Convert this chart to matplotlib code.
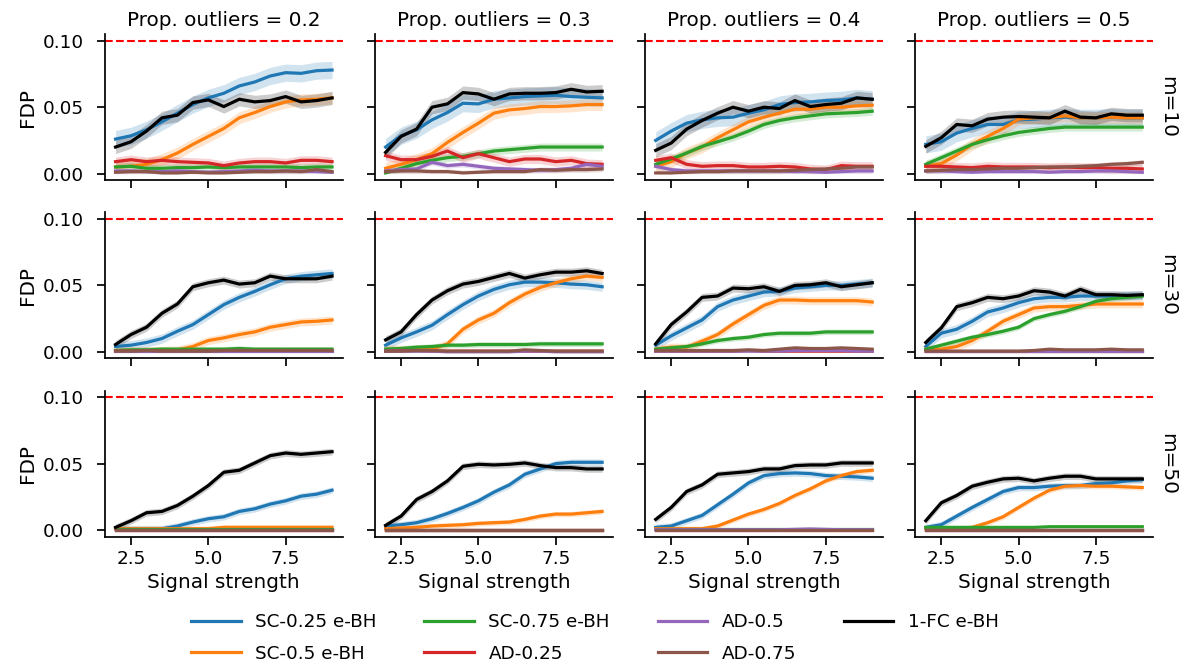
import numpy as np
import matplotlib
matplotlib.use("Agg")
import matplotlib.pyplot as plt

# signal strength grid
signal = [2.0, 2.5, 3.0, 3.5, 4.0, 4.5, 5.0, 5.5, 6.0, 6.5, 7.0, 7.5, 8.0, 8.5, 9.0]

methods = ["SC-0.25 e-BH", "SC-0.5 e-BH", "SC-0.75 e-BH",
           "AD-0.25", "AD-0.5", "AD-0.75", "1-FC e-BH"]
colors = ["#1f77b4", "#ff7f0e", "#2ca02c", "#d62728", "#9467bd", "#8c564b", "black"]

m_values = [10, 30, 50]
prop_outliers = [0.2, 0.3, 0.4, 0.5]
alpha_level = 0.1

# mean FDP per panel (row m, col prop), one list per method
fdp_m10_p02 = {
    "SC-0.25 e-BH": [0.026, 0.0285, 0.033, 0.039, 0.0455, 0.052, 0.057, 0.0605, 0.066, 0.069, 0.0735, 0.076, 0.0755, 0.0775, 0.078],
    "SC-0.5 e-BH": [0.005, 0.0055, 0.007, 0.0105, 0.0155, 0.022, 0.028, 0.034, 0.042, 0.046, 0.0505, 0.054, 0.0555, 0.056, 0.057],
    "SC-0.75 e-BH": [0.005, 0.0055, 0.004, 0.004, 0.0045, 0.0045, 0.005, 0.0045, 0.005, 0.005, 0.005, 0.005, 0.0045, 0.005, 0.005],
    "AD-0.25": [0.009, 0.0105, 0.009, 0.010, 0.009, 0.0085, 0.008, 0.006, 0.008, 0.009, 0.009, 0.008, 0.010, 0.010, 0.009],
    "AD-0.5": [0.002, 0.002, 0.0015, 0.0015, 0.002, 0.0015, 0.001, 0.0015, 0.002, 0.0025, 0.002, 0.002, 0.002, 0.0015, 0.001],
    "AD-0.75": [0.001, 0.0015, 0.0015, 0.0005, 0.0005, 0.001, 0.0005, 0.0005, 0.001, 0.0015, 0.0015, 0.002, 0.0015, 0.003, 0.0015],
    "1-FC e-BH": [0.02, 0.024, 0.032, 0.042, 0.044, 0.0535, 0.0555, 0.0505, 0.056, 0.054, 0.055, 0.058, 0.054, 0.055, 0.057],
}
fdp_m10_p03 = {
    "SC-0.25 e-BH": [0.02, 0.0285, 0.033, 0.0405, 0.046, 0.053, 0.0525, 0.056, 0.057, 0.058, 0.0585, 0.059, 0.058, 0.0575, 0.057],
    "SC-0.5 e-BH": [0.004, 0.007, 0.0105, 0.015, 0.0235, 0.031, 0.038, 0.0455, 0.048, 0.049, 0.0505, 0.0505, 0.051, 0.052, 0.052],
    "SC-0.75 e-BH": [0.0005, 0.004, 0.0075, 0.01, 0.012, 0.013, 0.015, 0.017, 0.018, 0.019, 0.02, 0.02, 0.02, 0.02, 0.02],
    "AD-0.25": [0.0135, 0.0105, 0.0105, 0.013, 0.017, 0.012, 0.015, 0.012, 0.009, 0.011, 0.011, 0.009, 0.01, 0.0075, 0.007],
    "AD-0.5": [0.002, 0.003, 0.0035, 0.0085, 0.006, 0.007, 0.0055, 0.004, 0.0035, 0.003, 0.0025, 0.003, 0.004, 0.007, 0.0055],
    "AD-0.75": [0.0015, 0.002, 0.002, 0.0015, 0.0015, 0.0005, 0.001, 0.0015, 0.0015, 0.0015, 0.003, 0.0025, 0.003, 0.003, 0.0035],
    "1-FC e-BH": [0.016, 0.028, 0.0335, 0.05, 0.0525, 0.061, 0.06, 0.056, 0.06, 0.0605, 0.0605, 0.061, 0.0635, 0.0615, 0.062],
}
fdp_m10_p04 = {
    "SC-0.25 e-BH": [0.025, 0.032, 0.038, 0.0405, 0.042, 0.0425, 0.0455, 0.048, 0.052, 0.0535, 0.054, 0.055, 0.0555, 0.057, 0.056],
    "SC-0.5 e-BH": [0.0055, 0.009, 0.0155, 0.02, 0.027, 0.033, 0.039, 0.0425, 0.0455, 0.0485, 0.0485, 0.05, 0.05, 0.051, 0.0515],
    "SC-0.75 e-BH": [0.007, 0.011, 0.0155, 0.0205, 0.024, 0.0275, 0.032, 0.037, 0.04, 0.042, 0.0435, 0.045, 0.0455, 0.046, 0.047],
    "AD-0.25": [0.01, 0.012, 0.007, 0.0055, 0.006, 0.006, 0.005, 0.005, 0.0055, 0.005, 0.0035, 0.003, 0.006, 0.0055, 0.0055],
    "AD-0.5": [0.0055, 0.003, 0.002, 0.002, 0.002, 0.002, 0.002, 0.002, 0.002, 0.0015, 0.0015, 0.001, 0.0015, 0.002, 0.002],
    "AD-0.75": [0.0005, 0.0005, 0.001, 0.0015, 0.0015, 0.002, 0.002, 0.002, 0.002, 0.0025, 0.003, 0.0035, 0.004, 0.005, 0.005],
    "1-FC e-BH": [0.0175, 0.023, 0.0335, 0.04, 0.0455, 0.05, 0.047, 0.05, 0.049, 0.055, 0.0505, 0.052, 0.053, 0.057, 0.056],
}
fdp_m10_p05 = {
    "SC-0.25 e-BH": [0.022, 0.024, 0.0305, 0.034, 0.037, 0.037, 0.0405, 0.041, 0.042, 0.0425, 0.042, 0.042, 0.0425, 0.042, 0.042],
    "SC-0.5 e-BH": [0.0055, 0.0075, 0.014, 0.022, 0.028, 0.034, 0.041, 0.042, 0.042, 0.0435, 0.042, 0.042, 0.0425, 0.042, 0.042],
    "SC-0.75 e-BH": [0.007, 0.012, 0.017, 0.022, 0.0255, 0.0285, 0.031, 0.0325, 0.034, 0.035, 0.035, 0.035, 0.035, 0.035, 0.035],
    "AD-0.25": [0.0055, 0.0055, 0.005, 0.0045, 0.0055, 0.005, 0.005, 0.005, 0.0045, 0.005, 0.0045, 0.0045, 0.004, 0.004, 0.0035],
    "AD-0.5": [0.002, 0.002, 0.0015, 0.001, 0.0015, 0.0015, 0.0015, 0.0015, 0.001, 0.0015, 0.0015, 0.002, 0.002, 0.0015, 0.001],
    "AD-0.75": [0.002, 0.0025, 0.003, 0.003, 0.0035, 0.004, 0.004, 0.0045, 0.005, 0.005, 0.0055, 0.006, 0.007, 0.0075, 0.0085],
    "1-FC e-BH": [0.0205, 0.027, 0.037, 0.036, 0.041, 0.0425, 0.043, 0.0425, 0.042, 0.047, 0.0425, 0.042, 0.045, 0.044, 0.044],
}
fdp_m30_p02 = {
    "SC-0.25 e-BH": [0.004, 0.005, 0.007, 0.01, 0.0155, 0.0205, 0.028, 0.0355, 0.041, 0.0455, 0.0505, 0.055, 0.057, 0.058, 0.059],
    "SC-0.5 e-BH": [0.001, 0.001, 0.001, 0.001, 0.0015, 0.004, 0.0085, 0.0105, 0.013, 0.015, 0.0185, 0.0205, 0.0225, 0.023, 0.024],
    "SC-0.75 e-BH": [0.001, 0.0015, 0.0015, 0.002, 0.002, 0.002, 0.002, 0.002, 0.0025, 0.002, 0.002, 0.002, 0.002, 0.002, 0.002],
    "AD-0.25": [0.0005, 0.0005, 0.0005, 0.0005, 0.0005, 0.0005, 0.0005, 0.0005, 0.001, 0.0005, 0.0005, 0.001, 0.0005, 0.0005, 0.0005],
    "AD-0.5": [0.0005, 0.0005, 0.0005, 0.0005, 0.0005, 0.0005, 0.0005, 0.0005, 0.0005, 0.0005, 0.0005, 0.0005, 0.0005, 0.0005, 0.0005],
    "AD-0.75": [0.0005, 0.0005, 0.001, 0.0005, 0.0005, 0.0005, 0.0005, 0.001, 0.001, 0.001, 0.001, 0.001, 0.001, 0.001, 0.001],
    "1-FC e-BH": [0.0055, 0.013, 0.0185, 0.029, 0.036, 0.049, 0.052, 0.054, 0.051, 0.052, 0.057, 0.055, 0.055, 0.055, 0.057],
}
fdp_m30_p03 = {
    "SC-0.25 e-BH": [0.005, 0.0105, 0.015, 0.02, 0.028, 0.0355, 0.042, 0.047, 0.0505, 0.0525, 0.0525, 0.052, 0.051, 0.0505, 0.049],
    "SC-0.5 e-BH": [0.002, 0.002, 0.002, 0.002, 0.006, 0.017, 0.024, 0.029, 0.037, 0.0435, 0.0485, 0.052, 0.055, 0.057, 0.056],
    "SC-0.75 e-BH": [0.002, 0.0025, 0.0035, 0.004, 0.005, 0.005, 0.0055, 0.0055, 0.0055, 0.0055, 0.006, 0.006, 0.006, 0.006, 0.006],
    "AD-0.25": [0.0005, 0.001, 0.001, 0.0005, 0.0005, 0.0005, 0.0005, 0.0005, 0.0005, 0.0005, 0.0005, 0.0005, 0.0005, 0.0005, 0.0005],
    "AD-0.5": [0.0005, 0.0005, 0.0005, 0.0005, 0.0, 0.0, 0.0, 0.0, 0.0, 0.0005, 0.0005, 0.0, 0.0, 0.0, 0.0],
    "AD-0.75": [0.0005, 0.0005, 0.001, 0.001, 0.0005, 0.0005, 0.0005, 0.0005, 0.0005, 0.0015, 0.001, 0.0005, 0.0005, 0.0005, 0.0005],
    "1-FC e-BH": [0.009, 0.015, 0.028, 0.039, 0.046, 0.051, 0.053, 0.056, 0.059, 0.0555, 0.058, 0.06, 0.06, 0.061, 0.059],
}
fdp_m30_p04 = {
    "SC-0.25 e-BH": [0.005, 0.012, 0.018, 0.024, 0.034, 0.039, 0.042, 0.045, 0.0455, 0.048, 0.049, 0.05, 0.05, 0.051, 0.052],
    "SC-0.5 e-BH": [0.002, 0.0035, 0.0035, 0.008, 0.013, 0.021, 0.028, 0.035, 0.039, 0.039, 0.0385, 0.0385, 0.0385, 0.0385, 0.0375],
    "SC-0.75 e-BH": [0.002, 0.003, 0.004, 0.006, 0.0085, 0.01, 0.011, 0.013, 0.014, 0.014, 0.014, 0.015, 0.015, 0.015, 0.015],
    "AD-0.25": [0.0005, 0.0005, 0.0005, 0.0005, 0.0005, 0.0005, 0.001, 0.0005, 0.0005, 0.0005, 0.0005, 0.0005, 0.0005, 0.0005, 0.0005],
    "AD-0.5": [0.0005, 0.0005, 0.0005, 0.0005, 0.0005, 0.0005, 0.0005, 0.0005, 0.0005, 0.001, 0.001, 0.001, 0.001, 0.0005, 0.0005],
    "AD-0.75": [0.001, 0.001, 0.001, 0.001, 0.001, 0.001, 0.0015, 0.001, 0.002, 0.003, 0.0025, 0.0025, 0.003, 0.0025, 0.002],
    "1-FC e-BH": [0.006, 0.0205, 0.03, 0.041, 0.042, 0.048, 0.0475, 0.049, 0.0455, 0.05, 0.0505, 0.052, 0.049, 0.0505, 0.052],
}
fdp_m30_p05 = {
    "SC-0.25 e-BH": [0.004, 0.014, 0.017, 0.023, 0.03, 0.033, 0.037, 0.04, 0.041, 0.041, 0.042, 0.042, 0.042, 0.0425, 0.0425],
    "SC-0.5 e-BH": [0.002, 0.002, 0.004, 0.0085, 0.0155, 0.023, 0.028, 0.033, 0.034, 0.034, 0.035, 0.036, 0.036, 0.036, 0.036],
    "SC-0.75 e-BH": [0.002, 0.005, 0.008, 0.011, 0.013, 0.0155, 0.0185, 0.025, 0.028, 0.0305, 0.034, 0.038, 0.04, 0.041, 0.042],
    "AD-0.25": [0.0005, 0.0005, 0.0005, 0.0005, 0.0005, 0.0005, 0.0005, 0.0005, 0.0005, 0.0005, 0.0005, 0.0005, 0.0005, 0.0005, 0.0005],
    "AD-0.5": [0.0005, 0.0005, 0.0005, 0.0005, 0.0005, 0.0005, 0.0005, 0.0005, 0.0005, 0.0005, 0.0005, 0.0005, 0.0005, 0.0005, 0.0005],
    "AD-0.75": [0.0005, 0.0005, 0.0005, 0.0005, 0.0005, 0.0005, 0.0005, 0.001, 0.002, 0.0015, 0.0015, 0.0015, 0.002, 0.0015, 0.0015],
    "1-FC e-BH": [0.007, 0.018, 0.034, 0.037, 0.041, 0.04, 0.042, 0.046, 0.045, 0.042, 0.047, 0.043, 0.043, 0.0425, 0.043],
}
fdp_m50_p02 = {
    "SC-0.25 e-BH": [0.001, 0.001, 0.001, 0.001, 0.003, 0.006, 0.0085, 0.01, 0.014, 0.016, 0.0195, 0.022, 0.0255, 0.027, 0.03],
    "SC-0.5 e-BH": [0.001, 0.001, 0.001, 0.001, 0.001, 0.001, 0.001, 0.002, 0.002, 0.002, 0.002, 0.002, 0.002, 0.002, 0.002],
    "SC-0.75 e-BH": [0.0005, 0.0005, 0.0005, 0.0005, 0.0005, 0.0005, 0.0005, 0.0005, 0.0005, 0.0005, 0.0005, 0.0005, 0.0005, 0.0005, 0.0005],
    "AD-0.25": [0.0002, 0.0002, 0.0002, 0.0002, 0.0002, 0.0002, 0.0002, 0.0002, 0.0002, 0.0002, 0.0002, 0.0002, 0.0002, 0.0002, 0.0002],
    "AD-0.5": [0.0002, 0.0002, 0.0002, 0.0002, 0.0002, 0.0002, 0.0002, 0.0002, 0.0002, 0.0002, 0.0002, 0.0002, 0.0002, 0.0002, 0.0002],
    "AD-0.75": [0.0002, 0.0002, 0.0002, 0.0002, 0.0002, 0.0002, 0.0002, 0.0002, 0.0002, 0.0002, 0.0002, 0.0002, 0.0002, 0.0002, 0.0002],
    "1-FC e-BH": [0.002, 0.007, 0.013, 0.014, 0.0185, 0.0255, 0.0335, 0.0435, 0.045, 0.0505, 0.056, 0.058, 0.057, 0.058, 0.059],
}
fdp_m50_p03 = {
    "SC-0.25 e-BH": [0.003, 0.004, 0.0055, 0.0085, 0.0125, 0.017, 0.022, 0.0285, 0.034, 0.042, 0.046, 0.05, 0.051, 0.051, 0.051],
    "SC-0.5 e-BH": [0.001, 0.0015, 0.002, 0.003, 0.0035, 0.004, 0.005, 0.0055, 0.006, 0.008, 0.0105, 0.012, 0.012, 0.013, 0.014],
    "SC-0.75 e-BH": [0.0003, 0.0003, 0.0003, 0.0003, 0.0003, 0.0003, 0.0003, 0.0003, 0.0003, 0.0003, 0.0003, 0.0003, 0.0003, 0.0003, 0.0003],
    "AD-0.25": [0.0002, 0.0002, 0.0002, 0.0002, 0.0002, 0.0002, 0.0002, 0.0002, 0.0002, 0.0002, 0.0002, 0.0002, 0.0002, 0.0002, 0.0002],
    "AD-0.5": [0.0002, 0.0002, 0.0002, 0.0002, 0.0002, 0.0002, 0.0002, 0.0002, 0.0002, 0.0002, 0.0002, 0.0002, 0.0002, 0.0002, 0.0002],
    "AD-0.75": [0.0002, 0.0002, 0.0002, 0.0002, 0.0002, 0.0002, 0.0002, 0.0002, 0.0002, 0.0002, 0.0002, 0.0002, 0.0002, 0.0002, 0.0002],
    "1-FC e-BH": [0.0035, 0.0105, 0.023, 0.029, 0.037, 0.048, 0.0495, 0.049, 0.0495, 0.0505, 0.0485, 0.047, 0.047, 0.046, 0.046],
}
fdp_m50_p04 = {
    "SC-0.25 e-BH": [0.002, 0.003, 0.007, 0.011, 0.019, 0.027, 0.0355, 0.041, 0.0425, 0.043, 0.0425, 0.041, 0.0405, 0.04, 0.039],
    "SC-0.5 e-BH": [0.001, 0.001, 0.001, 0.001, 0.003, 0.0075, 0.012, 0.0155, 0.02, 0.026, 0.031, 0.037, 0.041, 0.044, 0.045],
    "SC-0.75 e-BH": [0.0005, 0.0005, 0.0005, 0.0005, 0.0005, 0.0005, 0.0005, 0.0005, 0.0005, 0.0005, 0.0005, 0.0005, 0.0005, 0.0005, 0.0005],
    "AD-0.25": [0.0002, 0.0002, 0.0002, 0.0002, 0.0002, 0.0002, 0.0002, 0.0002, 0.0002, 0.0002, 0.0002, 0.0002, 0.0002, 0.0002, 0.0002],
    "AD-0.5": [0.0002, 0.0002, 0.0002, 0.0002, 0.0002, 0.0002, 0.0002, 0.0002, 0.0002, 0.0005, 0.0008, 0.0005, 0.0002, 0.0002, 0.0002],
    "AD-0.75": [0.0002, 0.0002, 0.0002, 0.0002, 0.0002, 0.0002, 0.0002, 0.0002, 0.0002, 0.0002, 0.0002, 0.0002, 0.0002, 0.0002, 0.0002],
    "1-FC e-BH": [0.008, 0.017, 0.029, 0.034, 0.042, 0.043, 0.044, 0.046, 0.046, 0.0485, 0.049, 0.049, 0.0505, 0.0505, 0.0505],
}
fdp_m50_p05 = {
    "SC-0.25 e-BH": [0.002, 0.004, 0.0105, 0.017, 0.023, 0.029, 0.032, 0.032, 0.033, 0.0335, 0.0335, 0.035, 0.0355, 0.037, 0.038],
    "SC-0.5 e-BH": [0.001, 0.001, 0.001, 0.002, 0.0055, 0.01, 0.017, 0.024, 0.03, 0.033, 0.0335, 0.033, 0.033, 0.0325, 0.032],
    "SC-0.75 e-BH": [0.002, 0.002, 0.002, 0.002, 0.002, 0.002, 0.002, 0.002, 0.0025, 0.0025, 0.0025, 0.0025, 0.0025, 0.0025, 0.0025],
    "AD-0.25": [0.0002, 0.0002, 0.0002, 0.0002, 0.0002, 0.0002, 0.0002, 0.0002, 0.0002, 0.0002, 0.0002, 0.0002, 0.0002, 0.0002, 0.0002],
    "AD-0.5": [0.0002, 0.0002, 0.0002, 0.0002, 0.0002, 0.0002, 0.0002, 0.0002, 0.0002, 0.0002, 0.0002, 0.0002, 0.0002, 0.0002, 0.0002],
    "AD-0.75": [0.0002, 0.0002, 0.0002, 0.0002, 0.0002, 0.0002, 0.0002, 0.0002, 0.0002, 0.0002, 0.0002, 0.0002, 0.0002, 0.0002, 0.0002],
    "1-FC e-BH": [0.007, 0.0205, 0.026, 0.033, 0.036, 0.0385, 0.039, 0.037, 0.039, 0.0405, 0.0405, 0.0385, 0.0385, 0.0385, 0.0385],
}

# half width of the confidence band, per row (m) and method
ci_half_m10 = [0.0065, 0.0045, 0.003, 0.0035, 0.002, 0.002, 0.005]
ci_half_m30 = [0.0035, 0.003, 0.002, 0.001, 0.001, 0.001, 0.003]
ci_half_m50 = [0.0025, 0.002, 0.0008, 0.0005, 0.0005, 0.0005, 0.0025]

panels = [
    [fdp_m10_p02, fdp_m10_p03, fdp_m10_p04, fdp_m10_p05],
    [fdp_m30_p02, fdp_m30_p03, fdp_m30_p04, fdp_m30_p05],
    [fdp_m50_p02, fdp_m50_p03, fdp_m50_p04, fdp_m50_p05],
]
ci_rows = [ci_half_m10, ci_half_m30, ci_half_m50]

# seaborn "notebook" look, text scaled by 1.2
plt.rcParams["font.size"] = 14.4
plt.rcParams["axes.labelsize"] = 14.4
plt.rcParams["axes.titlesize"] = 14.4
plt.rcParams["xtick.labelsize"] = 13.2
plt.rcParams["ytick.labelsize"] = 13.2
plt.rcParams["axes.linewidth"] = 1.25
plt.rcParams["xtick.major.width"] = 1.25
plt.rcParams["ytick.major.width"] = 1.25
plt.rcParams["xtick.major.size"] = 6
plt.rcParams["ytick.major.size"] = 6
plt.rcParams["ytick.major.pad"] = 9

fig, axes = plt.subplots(3, 4, figsize=(11.9, 6.7), dpi=100, sharex=True, sharey=True)
fig.subplots_adjust(left=0.088, right=0.969, top=0.949, bottom=0.199,
                    wspace=0.134, hspace=0.22)

x = np.array(signal)
handles = []
for r in range(3):
    for c in range(4):
        ax = axes[r, c]
        data = panels[r][c]
        for k, meth in enumerate(methods):
            y = np.array(data[meth])
            h = ci_rows[r][k]
            ax.fill_between(x, np.clip(y - h, 0, None), y + h,
                            color=colors[k], alpha=0.2, linewidth=0)
            ln, = ax.plot(x, y, color=colors[k], linewidth=2.3, label=meth)
            if r == 0 and c == 0:
                handles.append(ln)
        ax.axhline(alpha_level, color="red", linestyle="--", linewidth=1.5)
        ax.spines["top"].set_visible(False)
        ax.spines["right"].set_visible(False)
        ax.set_ylim(-0.005, 0.105)
        ax.set_yticks([0.0, 0.05, 0.10])
        ax.set_xticks([2.5, 5.0, 7.5])
        if r == 0:
            ax.set_title(f"Prop. outliers = {prop_outliers[c]}")
        if c == 0:
            ax.set_ylabel("FDP")
        if r == 2:
            ax.set_xlabel("Signal strength")
        if c == 3:
            ax.text(1.02, 0.5, f"m={m_values[r]}", transform=ax.transAxes,
                    rotation=270, va="center", ha="left", fontsize=14.4)

axes[0, 0].yaxis.set_major_formatter(matplotlib.ticker.FormatStrFormatter("%.2f"))
axes[0, 0].set_xlim(1.65, 9.35)

fig.legend(handles, methods, loc="lower center", ncol=4, frameon=False,
           bbox_to_anchor=(0.5, 0.0), borderaxespad=0.0, handlelength=2.7,
           columnspacing=2.6, labelspacing=0.75, fontsize=13.2)

fig.savefig("out.png", dpi=100)
